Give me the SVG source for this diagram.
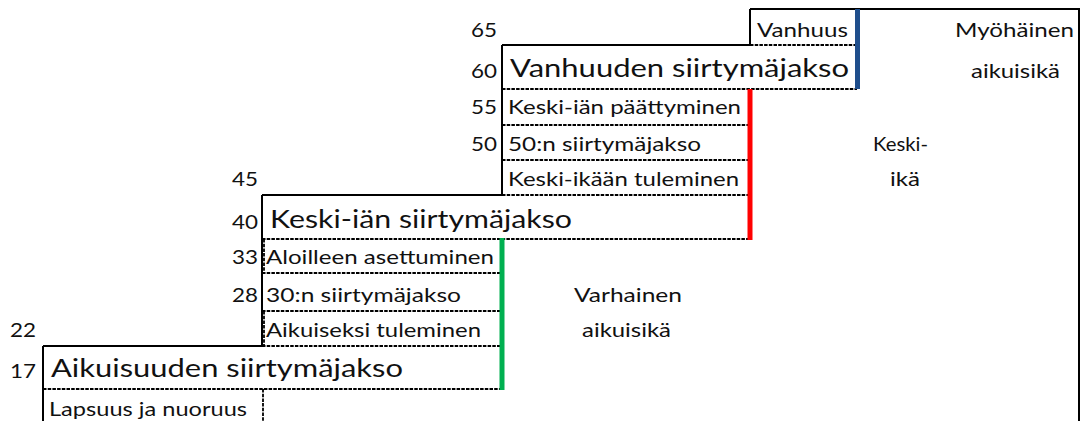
<svg xmlns="http://www.w3.org/2000/svg" width="1082" height="421" viewBox="0 0 1082 421">
<style>
text{font-family:Lato,"Open Sans","Liberation Sans",sans-serif;fill:#111;}
.s{font-size:20px;}
.b{font-size:25px;}
.solid{stroke:#000;stroke-width:2;fill:none;}
.dash{stroke:#000;stroke-width:1.8;stroke-dasharray:3.5 1.2;fill:none;}
.bar{stroke-width:5;fill:none;}
</style>
<rect width="1082" height="421" fill="#fff"/>
<g id="borders">
<path class="solid" d="M750 9H1079V421M750 9V45M502 45H750M502 45V195M262 195H502M262 195V346M43 346H262M43 346V421"/>
<path class="dash" d="M750 45H857M502 89H857M502 125H750M502 160H750M502 195H750M262 239H750M262 273H502M262 311H502M262 346H502M43 389H502M263 389V421M264 239V273M264 311V346"/>
</g>
<g id="connectors">
<line class="bar" x1="857.5" y1="9" x2="857.5" y2="89" stroke="#1F4E8C"/>
<line class="bar" x1="750" y1="89" x2="750" y2="240" stroke="#FF0000"/>
<line class="bar" x1="502" y1="238" x2="502" y2="390" stroke="#00B050"/>
</g>
<g id="ages" class="s">
<text x="471" y="37" textLength="26" lengthAdjust="spacingAndGlyphs">65</text>
<text x="471" y="78" textLength="26" lengthAdjust="spacingAndGlyphs">60</text>
<text x="471" y="114" textLength="26" lengthAdjust="spacingAndGlyphs">55</text>
<text x="471" y="151" textLength="26" lengthAdjust="spacingAndGlyphs">50</text>
<text x="232" y="186" textLength="26" lengthAdjust="spacingAndGlyphs">45</text>
<text x="232" y="229" textLength="26" lengthAdjust="spacingAndGlyphs">40</text>
<text x="232" y="264" textLength="26" lengthAdjust="spacingAndGlyphs">33</text>
<text x="232" y="302" textLength="26" lengthAdjust="spacingAndGlyphs">28</text>
<text x="10" y="337" textLength="26" lengthAdjust="spacingAndGlyphs">22</text>
<text x="10" y="378" textLength="26" lengthAdjust="spacingAndGlyphs">17</text>
</g>
<g id="vanhuus"><text class="s" x="757" y="37" textLength="91" lengthAdjust="spacingAndGlyphs">Vanhuus</text></g>
<g id="myohainen-aikuisika">
<text class="s" x="955" y="37" textLength="119" lengthAdjust="spacingAndGlyphs">Myöhäinen</text>
<text class="s" x="971" y="78" textLength="89" lengthAdjust="spacingAndGlyphs">aikuisikä</text>
</g>
<g id="vanhuuden-siirtymajakso"><text class="b" x="510" y="77" textLength="339" lengthAdjust="spacingAndGlyphs">Vanhuuden siirtymäjakso</text></g>
<g id="keski-ian-paattyminen"><text class="s" x="508" y="114" textLength="233" lengthAdjust="spacingAndGlyphs">Keski-iän päättyminen</text></g>
<g id="siirtymajakso-50"><text class="s" x="508" y="151" textLength="193" lengthAdjust="spacingAndGlyphs">50:n siirtymäjakso</text></g>
<g id="keski-ikaan-tuleminen"><text class="s" x="508" y="186" textLength="231" lengthAdjust="spacingAndGlyphs">Keski-ikään tuleminen</text></g>
<g id="keski-ika">
<text class="s" x="873" y="151" textLength="55" lengthAdjust="spacingAndGlyphs">Keski-</text>
<text class="s" x="890" y="186" textLength="30" lengthAdjust="spacingAndGlyphs">ikä</text>
</g>
<g id="keski-ian-siirtymajakso"><text class="b" x="270" y="228" textLength="302" lengthAdjust="spacingAndGlyphs">Keski-iän siirtymäjakso</text></g>
<g id="aloilleen-asettuminen"><text class="s" x="266" y="264" textLength="228" lengthAdjust="spacingAndGlyphs">Aloilleen asettuminen</text></g>
<g id="siirtymajakso-30"><text class="s" x="266" y="302" textLength="195" lengthAdjust="spacingAndGlyphs">30:n siirtymäjakso</text></g>
<g id="aikuiseksi-tuleminen"><text class="s" x="266" y="337" textLength="215" lengthAdjust="spacingAndGlyphs">Aikuiseksi tuleminen</text></g>
<g id="varhainen-aikuisika">
<text class="s" x="574" y="302" textLength="108" lengthAdjust="spacingAndGlyphs">Varhainen</text>
<text class="s" x="582" y="337" textLength="89" lengthAdjust="spacingAndGlyphs">aikuisikä</text>
</g>
<g id="aikuisuuden-siirtymajakso"><text class="b" x="51" y="377" textLength="352" lengthAdjust="spacingAndGlyphs">Aikuisuuden siirtymäjakso</text></g>
<g id="lapsuus-ja-nuoruus"><text class="s" x="49" y="416" textLength="198" lengthAdjust="spacingAndGlyphs">Lapsuus ja nuoruus</text></g>
</svg>
